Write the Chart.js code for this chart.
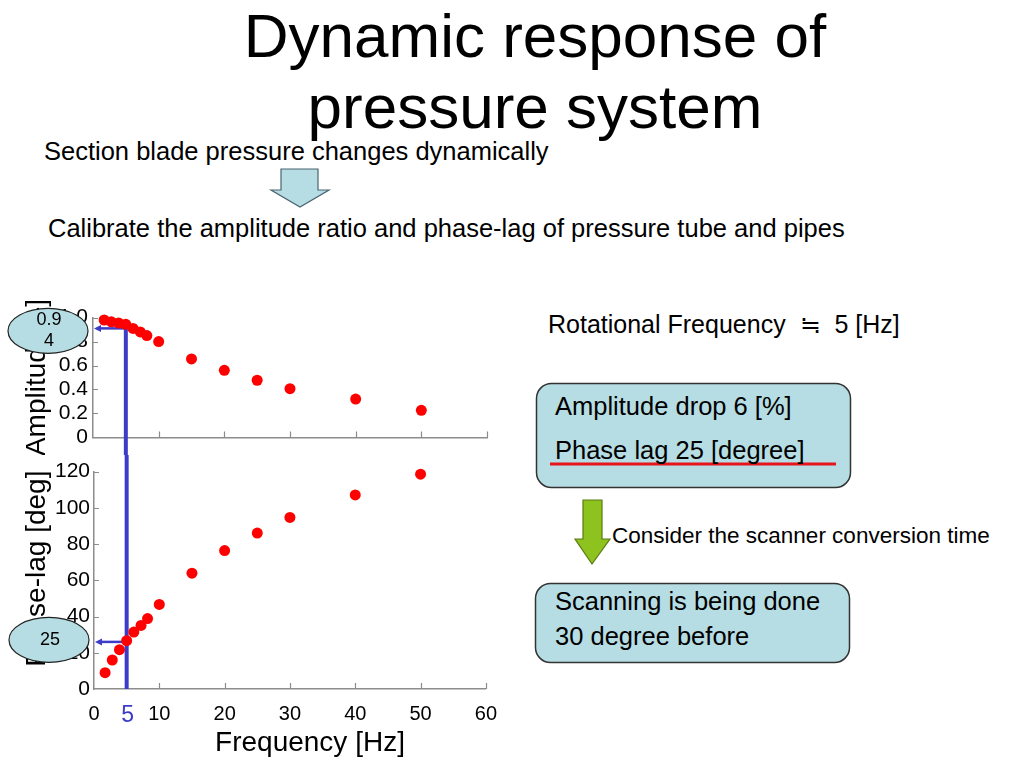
<!DOCTYPE html>
<html>
<head>
<meta charset="utf-8">
<script src="https://cdn.jsdelivr.net/npm/chart.js"></script>
<style>
  body { margin: 0; width: 1024px; height: 768px; background: #fff; position: relative; overflow: hidden;
         font-family: "Liberation Sans", Arial, "Noto Sans CJK JP", sans-serif; color: #000; }
  .t { position: absolute; white-space: nowrap; }
  #title { left: 0; width: 1070px; top: 0; text-align: center; font-size: 62px; line-height: 71px; }
  .body { font-size: 25.5px; line-height: 30px; }
  canvas { position: absolute; left: 0; }
  #ampChart { top: 300px; }
  #phaseChart { top: 455px; }
  svg { position: absolute; left: 0; top: 0; }
</style>
</head>
<body>
<svg width="1024" height="768">
  <polygon points="281,169 318,169 318,190 329,190 300,207 271,190 281,190" fill="#b6dde3" stroke="#4a6470" stroke-width="1.2"/>
  <rect x="536.5" y="383.5" width="314" height="104" rx="15" fill="#b6dde3" stroke="#333" stroke-width="1.5"/>
  <line x1="550" y1="464" x2="836" y2="464" stroke="#e8141c" stroke-width="3"/>
  <polygon points="583,500 602,500 602,539 610,539 592,564 575,539 583,539" fill="#8dc21f" stroke="#5b7a14" stroke-width="1.2"/>
  <rect x="535.5" y="583.5" width="314" height="79" rx="15" fill="#b6dde3" stroke="#333" stroke-width="1.5"/>
</svg>

<div id="title" class="t">Dynamic response of<br>pressure system</div>
<div class="t body" style="left:44px;top:136px">Section blade pressure changes dynamically</div>
<div class="t body" style="left:48px;top:213px">Calibrate the amplitude ratio and phase-lag of pressure tube and pipes</div>
<div class="t body" style="left:548px;top:309px;font-size:25px">Rotational Frequency &nbsp;≒ &nbsp;5 [Hz]</div>
<div class="t body" style="left:555px;top:391px">Amplitude drop 6 [%]</div>
<div class="t body" style="left:555px;top:435px">Phase lag 25 [degree]</div>
<div class="t" style="left:612px;top:523px;font-size:22.5px;line-height:26px">Consider the scanner conversion time</div>
<div class="t body" style="left:555px;top:586px">Scanning is being done</div>
<div class="t body" style="left:555px;top:621px">30 degree before</div>

<canvas id="ampChart" width="510" height="155"></canvas>
<canvas id="phaseChart" width="510" height="300"></canvas>
<div class="t" style="left:160px;width:300px;text-align:center;top:726px;font-size:28px;line-height:32px">Frequency [Hz]</div>

<script>
const freqHz    = [1.7, 2.8, 3.9, 5, 6.1, 7.2, 8.2, 10, 15, 20, 25, 30, 40, 50];
const amplitude = [0.98, 0.965, 0.955, 0.944, 0.91, 0.88, 0.85, 0.80, 0.655, 0.56, 0.477, 0.407, 0.32, 0.226];
const phaseLag  = [9, 16, 21.7, 26.7, 31.4, 35.1, 38.9, 46.7, 63.9, 76.4, 86.1, 94.7, 107.1, 118.6];

const freqTicks  = [0, 10, 20, 30, 40, 50, 60];
const ampTicks   = [0, 0.2, 0.4, 0.6, 0.8, 1.0];
const phaseTicks = [0, 20, 40, 60, 80, 100, 120];

const rotFreq = 5;
const ampRead = 0.91;
const ampReadLabel = ["0.9", "4"];
const phaseRead = 26;
const phaseReadLabel = ["25"];

const RED = "#ff0000";
const BLUE = "#3c3cc8";
const GRAY = "#8c8c8c";
const FONT = "'Liberation Sans', Arial, sans-serif";

Chart.defaults.font.family = FONT;
Chart.defaults.color = "#000";

const toPoints = (xs, ys) => xs.map((x, i) => ({ x: x, y: ys[i] }));
const fixTicks = list => scale => { scale.ticks = list.map(v => ({ value: v })); };

// excel style tick marks pointing into the plot
const insideTicks = {
  id: "insideTicks",
  beforeDatasetsDraw(chart) {
    const { ctx, chartArea: a, scales: { x, y } } = chart;
    ctx.save();
    ctx.strokeStyle = GRAY;
    ctx.lineWidth = 1.2;
    ctx.beginPath();
    x.ticks.forEach(t => {
      if (t.value === x.min) return;
      const px = Math.round(x.getPixelForValue(t.value)) + 0.5;
      ctx.moveTo(px, a.bottom);
      ctx.lineTo(px, a.bottom - 6);
    });
    y.ticks.forEach(t => {
      if (t.value === y.min) return;
      const py = Math.round(y.getPixelForValue(t.value)) + 0.5;
      ctx.moveTo(a.left, py);
      ctx.lineTo(a.left + 5, py);
    });
    ctx.stroke();
    ctx.restore();
  }
};

// blue read-off line at the rotational frequency + callout bubble
const readOff = {
  id: "readOff",
  beforeDatasetsDraw(chart, args, o) {
    const { ctx, chartArea: a, scales: { x, y } } = chart;
    const px = x.getPixelForValue(o.freq);
    const py = y.getPixelForValue(o.level);
    ctx.save();
    ctx.strokeStyle = BLUE;
    ctx.lineWidth = 4;
    ctx.beginPath();
    ctx.moveTo(px, o.upper ? py - 2 : 0);
    ctx.lineTo(px, o.upper ? chart.height : a.bottom);
    ctx.stroke();
    ctx.lineWidth = 2.5;
    ctx.beginPath();
    ctx.moveTo(px, py);
    ctx.lineTo(a.left + 7, py);
    ctx.stroke();
    ctx.fillStyle = BLUE;
    ctx.beginPath();
    ctx.moveTo(a.left + 1, py);
    ctx.lineTo(a.left + 8, py - 3.5);
    ctx.lineTo(a.left + 8, py + 3.5);
    ctx.closePath();
    ctx.fill();
    ctx.restore();
  },
  afterDraw(chart, args, o) {
    const { ctx, chartArea: a, scales: { x, y } } = chart;
    const px = x.getPixelForValue(o.freq);
    const cx = a.left - 45;
    const cy = y.getPixelForValue(o.level) + o.dy;
    ctx.save();
    ctx.beginPath();
    ctx.ellipse(cx, cy, 40, 22.5, 0, 0, Math.PI * 2);
    ctx.fillStyle = "#b6dde3";
    ctx.fill();
    ctx.strokeStyle = "#222";
    ctx.lineWidth = 1.2;
    ctx.stroke();
    ctx.fillStyle = "#000";
    ctx.font = "18px " + FONT;
    ctx.textAlign = "center";
    ctx.textBaseline = "middle";
    const n = o.text.length;
    o.text.forEach((s, i) => ctx.fillText(s, cx + 1, cy + (i - (n - 1) / 2) * 21));
    if (o.tickText) {
      ctx.fillStyle = BLUE;
      ctx.font = "23px " + FONT;
      ctx.fillText(o.tickText, px + 1, a.bottom + 27);
    }
    ctx.restore();
  }
};

function yTitle(text) {
  return { display: true, text: text, font: { size: 28 }, color: "#000", padding: { top: 20 } };
}

new Chart(document.getElementById("ampChart"), {
  type: "scatter",
  data: {
    datasets: [{ data: toPoints(freqHz, amplitude), backgroundColor: RED, borderWidth: 0, pointRadius: 5.5, clip: false }]
  },
  options: {
    responsive: false,
    animation: false,
    layout: { padding: { left: 0, top: 17, right: 23, bottom: 10 } },
    plugins: {
      legend: { display: false },
      tooltip: { enabled: false },
      readOff: { freq: rotFreq, level: ampRead, text: ampReadLabel, upper: true, dy: 2.5 }
    },
    scales: {
      x: {
        type: "linear", min: 0, max: 60,
        afterBuildTicks: fixTicks(freqTicks),
        ticks: { display: false, autoSkip: false },
        grid: { display: false, drawTicks: false },
        border: { color: GRAY, width: 1.5 },
        afterFit: s => { s.height = 0; }
      },
      y: {
        min: 0, max: 1,
        afterBuildTicks: fixTicks(ampTicks),
        ticks: { padding: 5, autoSkip: false, font: { size: 21 }, color: "#000", callback: v => v === 0 ? "0" : v.toFixed(1) },
        grid: { display: false, drawTicks: false },
        border: { color: GRAY, width: 1.5 },
        title: yTitle("Amplitude [-]"),
        afterFit: s => { s.width = 93; }
      }
    }
  },
  plugins: [insideTicks, readOff]
});

new Chart(document.getElementById("phaseChart"), {
  type: "scatter",
  data: {
    datasets: [{ data: toPoints(freqHz, phaseLag), backgroundColor: RED, borderWidth: 0, pointRadius: 5.5, clip: false }]
  },
  options: {
    responsive: false,
    animation: false,
    layout: { padding: { left: 0, top: 11, right: 24, bottom: 0 } },
    plugins: {
      legend: { display: false },
      tooltip: { enabled: false },
      readOff: { freq: rotFreq, level: phaseRead, text: phaseReadLabel, upper: false, dy: -2, tickText: String(rotFreq) }
    },
    scales: {
      x: {
        type: "linear", min: 0, max: 60,
        afterBuildTicks: fixTicks(freqTicks),
        ticks: { padding: 13, autoSkip: false, font: { size: 20 }, color: "#000" },
        grid: { display: false, drawTicks: false },
        border: { color: GRAY, width: 1.5 },
        afterFit: s => { s.height = 66; }
      },
      y: {
        min: 0, max: 120,
        afterBuildTicks: fixTicks(phaseTicks),
        ticks: { padding: 4, autoSkip: false, font: { size: 21 }, color: "#000" },
        grid: { display: false, drawTicks: false },
        border: { color: GRAY, width: 1.5 },
        // leading spaces nudge the label up a little, like on the slide
        title: yTitle("   Phase-lag [deg]"),
        afterFit: s => { s.width = 94; }
      }
    }
  },
  plugins: [insideTicks, readOff]
});
</script>
</body>
</html>
